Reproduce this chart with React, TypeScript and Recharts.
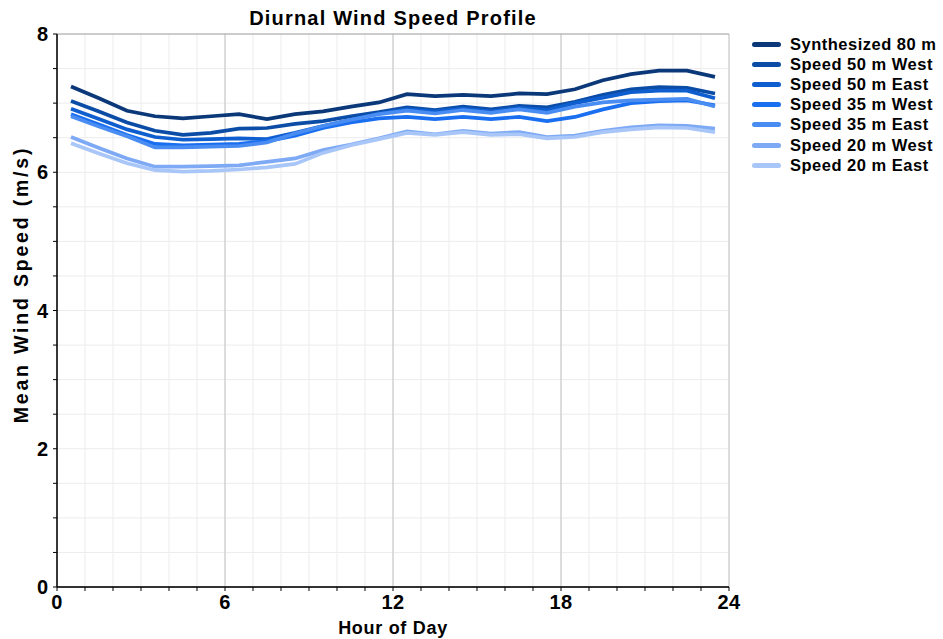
import React from "react";
import {
  LineChart,
  Line,
  XAxis,
  YAxis,
  CartesianGrid,
} from "recharts";

// ---- data ----
const hours = [0.5, 1.5, 2.5, 3.5, 4.5, 5.5, 6.5, 7.5, 8.5, 9.5, 10.5, 11.5, 12.5, 13.5, 14.5, 15.5, 16.5, 17.5, 18.5, 19.5, 20.5, 21.5, 22.5, 23.5];

const synth80 = [7.24, 7.07, 6.89, 6.81, 6.78, 6.81, 6.84, 6.77, 6.84, 6.88, 6.95, 7.01, 7.13, 7.10, 7.12, 7.10, 7.14, 7.13, 7.20, 7.33, 7.42, 7.47, 7.47, 7.38];
const west50 = [7.03, 6.88, 6.72, 6.60, 6.54, 6.57, 6.63, 6.64, 6.70, 6.74, 6.81, 6.87, 6.94, 6.90, 6.95, 6.91, 6.96, 6.94, 7.02, 7.12, 7.20, 7.23, 7.22, 7.14];
const east50 = [6.92, 6.77, 6.62, 6.51, 6.47, 6.48, 6.49, 6.48, 6.57, 6.67, 6.76, 6.85, 6.91, 6.88, 6.92, 6.88, 6.93, 6.90, 7.00, 7.08, 7.16, 7.18, 7.18, 7.07];
const west35 = [6.84, 6.69, 6.54, 6.41, 6.39, 6.40, 6.41, 6.45, 6.53, 6.64, 6.72, 6.78, 6.80, 6.77, 6.80, 6.77, 6.80, 6.74, 6.80, 6.91, 7.00, 7.03, 7.04, 6.97];
const east35 = [6.81, 6.66, 6.52, 6.36, 6.36, 6.37, 6.38, 6.43, 6.56, 6.67, 6.76, 6.84, 6.89, 6.85, 6.90, 6.86, 6.91, 6.86, 6.95, 7.01, 7.04, 7.05, 7.06, 6.95];
const west20 = [6.51, 6.35, 6.20, 6.08, 6.08, 6.09, 6.10, 6.15, 6.20, 6.32, 6.40, 6.49, 6.59, 6.55, 6.60, 6.56, 6.58, 6.51, 6.53, 6.60, 6.65, 6.68, 6.67, 6.63];
const east20 = [6.42, 6.27, 6.13, 6.03, 6.01, 6.02, 6.04, 6.07, 6.12, 6.28, 6.39, 6.48, 6.57, 6.54, 6.58, 6.54, 6.55, 6.49, 6.51, 6.58, 6.62, 6.65, 6.64, 6.58];

const seriesNames = [
  "Synthesized 80 m",
  "Speed 50 m West",
  "Speed 50 m East",
  "Speed 35 m West",
  "Speed 35 m East",
  "Speed 20 m West",
  "Speed 20 m East",
];
const seriesValues = [synth80, west50, east50, west35, east35, west20, east20];
const seriesColors = ["#0a3878", "#0b4da6", "#0f5ecf", "#1a6ff0", "#4a8df2", "#7eaaf5", "#a9c6f8"];

const xMinorTicks = [0, 1, 2, 3, 4, 5, 6, 7, 8, 9, 10, 11, 12, 13, 14, 15, 16, 17, 18, 19, 20, 21, 22, 23, 24];
const xMajorTicks = [0, 6, 12, 18, 24];
const yMinorTicks = [0, 0.5, 1, 1.5, 2, 2.5, 3, 3.5, 4, 4.5, 5, 5.5, 6, 6.5, 7, 7.5, 8];
const yMajorTicks = [0, 2, 4, 6, 8];

const title = "Diurnal Wind Speed Profile";
const xLabel = "Hour of Day";
const yLabel = "Mean Wind Speed (m/s)";

const data = hours.map((h, i) => {
  const row: Record<string, number> = { hour: h };
  seriesNames.forEach((n, k) => {
    row[n] = seriesValues[k][i];
  });
  return row;
});

const FONT = "'Liberation Sans', Arial, Helvetica, sans-serif";

const XTick = (props: any) => {
  const { x, y, payload } = props;
  if (!xMajorTicks.includes(payload.value)) return <g />;
  return (
    <text x={x} y={y} dy={15} textAnchor="middle" fontSize={20} fontWeight="bold" fill="#000" fontFamily={FONT} letterSpacing={0.5}>
      {payload.value}
    </text>
  );
};

const YTick = (props: any) => {
  const { x, y, payload } = props;
  if (!yMajorTicks.includes(payload.value)) return <g />;
  return (
    <text x={x} y={y} dy={7} textAnchor="end" fontSize={20} fontWeight="bold" fill="#000" fontFamily={FONT}>
      {payload.value}
    </text>
  );
};

const YLabel = (props: any) => {
  const { viewBox } = props;
  const cx = 21;
  const cy = viewBox.y + viewBox.height / 2 - 26;
  return (
    <text x={cx} y={cy} transform={`rotate(-90 ${cx} ${cy})`} textAnchor="middle" dominantBaseline="central" fontSize={19.5} fontWeight="bold" fill="#000" fontFamily={FONT} letterSpacing={2.8}>
      {yLabel}
    </text>
  );
};

const XLabel = (props: any) => {
  const { viewBox } = props;
  const cx = viewBox.x + viewBox.width / 2;
  return (
    <text x={cx} y={634} textAnchor="middle" fontSize={18} fontWeight="bold" fill="#000" fontFamily={FONT} letterSpacing={0.7}>
      {xLabel}
    </text>
  );
};

export default function App() {
  return (
    <div style={{ position: "absolute", left: 0, top: 0, width: 943, height: 639, background: "#fff", fontFamily: FONT }}>
      <div
        style={{
          position: "absolute",
          left: 57,
          width: 672,
          top: 6,
          textAlign: "center",
          fontSize: 20,
          fontWeight: "bold",
          color: "#000",
          lineHeight: "24px",
          letterSpacing: 1.2,
        }}
      >
        {title}
      </div>
      <LineChart
        width={943}
        height={639}
        data={data}
        margin={{ top: 34, right: 214, bottom: 22, left: 17 }}
      >
        <CartesianGrid stroke="#ececec" strokeWidth={1} xAxisId="x" yAxisId="y" />
        <CartesianGrid stroke="#c4c4c4" strokeWidth={1} xAxisId="xMajor" yAxisId="yMajor" horizontal={false} />
        <CartesianGrid stroke="#a2a2a2" strokeWidth={1} xAxisId="xMajor" yAxisId="yMajor" vertical={false} />
        <XAxis
          xAxisId="x"
          dataKey="hour"
          type="number"
          domain={[0, 24]}
          ticks={xMinorTicks}
          interval={0}
          tick={<XTick />}
          tickSize={4}
          tickMargin={3}
          height={30}
          axisLine={{ stroke: "#000", strokeWidth: 1.5 }}
          tickLine={{ stroke: "#000" }}
          label={<XLabel />}
        />
        <XAxis xAxisId="xMajor" dataKey="hour" type="number" domain={[0, 24]} ticks={xMajorTicks} hide />
        <XAxis
          xAxisId="top"
          orientation="top"
          dataKey="hour"
          type="number"
          domain={[0, 24]}
          height={0}
          tick={false}
          tickLine={false}
          axisLine={{ stroke: "#222", strokeWidth: 1 }}
        />
        <YAxis
          yAxisId="y"
          type="number"
          domain={[0, 8]}
          ticks={yMinorTicks}
          interval={0}
          tick={<YTick />}
          tickSize={4}
          tickMargin={5}
          width={40}
          axisLine={{ stroke: "#000", strokeWidth: 1.5 }}
          tickLine={{ stroke: "#000" }}
          label={<YLabel />}
        />
        <YAxis yAxisId="yMajor" type="number" domain={[0, 8]} ticks={yMajorTicks} hide />
        <YAxis
          yAxisId="right"
          orientation="right"
          type="number"
          domain={[0, 8]}
          width={0}
          tick={false}
          tickLine={false}
          axisLine={{ stroke: "#000", strokeWidth: 1.5 }}
        />
        {seriesNames.map((n, i) => (
          <Line
            key={n}
            xAxisId="x"
            yAxisId="y"
            type="linear"
            dataKey={n}
            stroke={seriesColors[i]}
            strokeWidth={3.7}
            dot={false}
            activeDot={false}
            isAnimationActive={false}
          />
        ))}
      </LineChart>
      <div style={{ position: "absolute", left: 752, top: 34, width: 191, fontFamily: FONT }}>
        {seriesNames.map((n, i) => (
          <div key={n} style={{ display: "flex", alignItems: "center", height: 20.2 }}>
            <div style={{ width: 29, height: 5, borderRadius: 3, background: seriesColors[i], marginRight: 9, flexShrink: 0 }} />
            <span style={{ fontSize: 16.5, fontWeight: "bold", color: "#000", whiteSpace: "nowrap", letterSpacing: 0.5 }}>{n}</span>
          </div>
        ))}
      </div>
    </div>
  );
}
